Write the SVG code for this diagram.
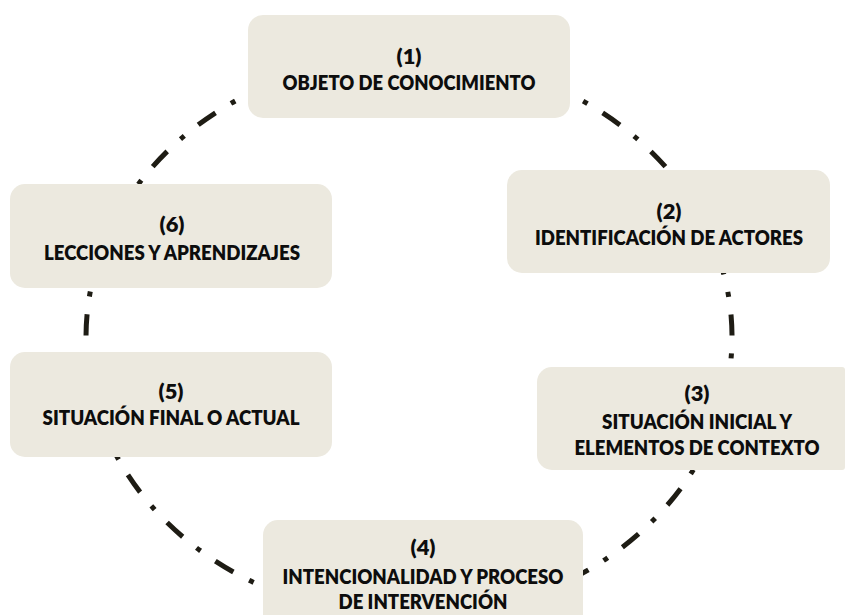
<svg xmlns="http://www.w3.org/2000/svg" width="847" height="615" viewBox="0 0 847 615">
<style>
.box{fill:#ECE9DF;}
.t{font-family:Lato,"Liberation Sans",Arial,sans-serif;font-weight:800;font-size:21px;fill:#0d0d0d;text-anchor:middle;}
.ring{fill:none;stroke:#1E1C14;stroke-width:5;stroke-dasharray:5 17.8 21 18;}
</style>
<rect width="847" height="615" fill="#ffffff"/>
<g id="connectors">
<path class="ring" style="stroke-dashoffset:3.9" d="M 409 57 A 323 280 0 1 1 94.3 400"/>
<path class="ring" style="stroke-dashoffset:19.2" d="M 94.3 400 A 323 280 0 0 1 409 57"/>
</g>
<g id="node1">
<rect class="box" x="248" y="15" width="322" height="103" rx="15"/>
<text class="t" x="409" y="64" textLength="25" lengthAdjust="spacingAndGlyphs">(1)</text>
<text class="t" x="409" y="90" textLength="253" lengthAdjust="spacingAndGlyphs">OBJETO DE CONOCIMIENTO</text>
</g>
<g id="node2">
<rect class="box" x="507" y="170" width="323" height="103" rx="15"/>
<text class="t" x="669" y="219" textLength="25" lengthAdjust="spacingAndGlyphs">(2)</text>
<text class="t" x="669" y="245" textLength="268" lengthAdjust="spacingAndGlyphs">IDENTIFICACIÓN DE ACTORES</text>
</g>
<g id="node3">
<path class="box" d="M 552 367 H 842 A 3 3 0 0 1 845 370 V 467 A 3 3 0 0 1 842 470 H 552 A 15 15 0 0 1 537 455 V 382 A 15 15 0 0 1 552 367 Z"/>
<text class="t" x="697" y="401" textLength="25" lengthAdjust="spacingAndGlyphs">(3)</text>
<text class="t" x="697" y="429" textLength="190" lengthAdjust="spacingAndGlyphs">SITUACIÓN INICIAL Y</text>
<text class="t" x="697" y="455" textLength="245" lengthAdjust="spacingAndGlyphs">ELEMENTOS DE CONTEXTO</text>
</g>
<g id="node4">
<path class="box" d="M 278 520 H 568 A 15 15 0 0 1 583 535 V 615 H 263 V 535 A 15 15 0 0 1 278 520 Z"/>
<text class="t" x="423" y="555" textLength="25" lengthAdjust="spacingAndGlyphs">(4)</text>
<text class="t" x="423" y="584" textLength="281" lengthAdjust="spacingAndGlyphs">INTENCIONALIDAD Y PROCESO</text>
<text class="t" x="423" y="609" textLength="169" lengthAdjust="spacingAndGlyphs">DE INTERVENCIÓN</text>
</g>
<g id="node5">
<rect class="box" x="10" y="352" width="322" height="105" rx="15"/>
<text class="t" x="171" y="399" textLength="25" lengthAdjust="spacingAndGlyphs">(5)</text>
<text class="t" x="171" y="425" textLength="257" lengthAdjust="spacingAndGlyphs">SITUACIÓN FINAL O ACTUAL</text>
</g>
<g id="node6">
<rect class="box" x="10" y="184" width="322" height="104" rx="15"/>
<text class="t" x="172" y="232" textLength="25" lengthAdjust="spacingAndGlyphs">(6)</text>
<text class="t" x="172" y="260" textLength="256" lengthAdjust="spacingAndGlyphs">LECCIONES Y APRENDIZAJES</text>
</g>
</svg>
